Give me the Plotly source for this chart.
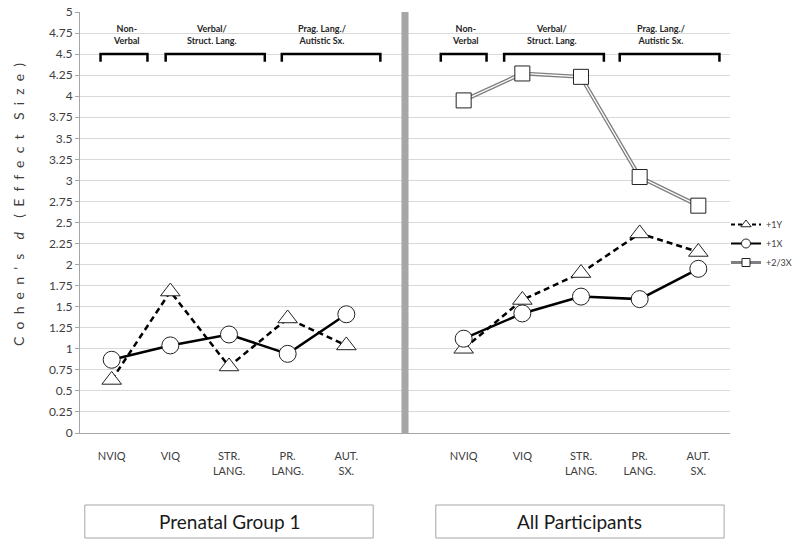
import plotly.graph_objects as go

categories = ["NVIQ", "VIQ", "STR.<br>LANG.", "PR.<br>LANG.", "AUT.<br>SX."]
tick_labels = categories + [""] + categories

# Prenatal Group 1 (left panel)
pg_1y = [0.63, 1.68, 0.79, 1.36, 1.04]
pg_1x = [0.87, 1.04, 1.17, 0.94, 1.41]
# All Participants (right panel)
all_1y = [1.00, 1.58, 1.90, 2.37, 2.15]
all_1x = [1.12, 1.42, 1.62, 1.59, 1.95]
all_23x = [3.95, 4.27, 4.23, 3.04, 2.70]

divider_value = [5]

group_labels = ["Non-<br>Verbal", "Verbal/<br>Struct. Lang.", "Prag. Lang./<br>Autistic Sx."]
bracket_left = [(-0.19, 0.61), (0.92, 2.61), (2.90, 4.58)]
bracket_right = [(5.61, 6.39), (6.69, 8.39), (8.66, 10.36)]
panel_titles = ["Prenatal Group 1", "All Participants"]

xs = list(range(11))
def join(a, b):
    return a + [None] + b

FONT = "Lato, 'Open Sans', sans-serif"
W, H = 800, 547
ML, MR, MT, MB = 80, 0, 12, 114
PLOT_RIGHT = 730
PW = W - ML - MR
PH = H - MT - MB

def px_x(px):
    return (px - ML) / PW

def px_y(py):
    return (H - MB - py) / PH

fig = go.Figure()

# divider bar
fig.add_trace(go.Bar(x=[5], y=divider_value, width=0.12, marker=dict(color="#a6a6a6", line=dict(width=0)),
                     showlegend=False, hoverinfo="skip"))

tri_marker = dict(symbol="triangle-up", size=17, color="white", line=dict(color="#222", width=1))
cir_marker = dict(symbol="circle", size=17, color="white", line=dict(color="#222", width=1))
sq_marker = dict(symbol="square", size=15, color="white", line=dict(color="#222", width=1))

fig.add_trace(go.Scatter(
    x=xs, y=join(pg_1y, all_1y), name="+1Y", mode="lines+markers", showlegend=False,
    line=dict(color="black", width=2.5, dash="6px,4px"), marker=tri_marker, connectgaps=False))
fig.add_trace(go.Scatter(
    x=xs, y=join(pg_1x, all_1x), name="+1X", mode="lines+markers", showlegend=False,
    line=dict(color="black", width=2.5), marker=cir_marker, connectgaps=False))
# double line for +2/3X
fig.add_trace(go.Scatter(
    x=xs, y=join([None]*5, all_23x), name="+2/3X", mode="lines", showlegend=False,
    line=dict(color="#7f7f7f", width=4), connectgaps=False))
fig.add_trace(go.Scatter(
    x=xs, y=join([None]*5, all_23x), mode="lines", showlegend=False,
    line=dict(color="white", width=1.3), hoverinfo="skip", connectgaps=False))
fig.add_trace(go.Scatter(
    x=xs, y=join([None]*5, all_23x), mode="markers", showlegend=False, name="+2/3X",
    marker=sq_marker))

# legend entries (small symbols like the reference)
fig.add_trace(go.Scatter(x=[None], y=[None], name="+1Y", mode="lines+markers",
                         line=dict(color="black", width=2, dash="4px,3px"),
                         marker=dict(symbol="triangle-up", size=9, color="white", line=dict(color="#222", width=1))))
fig.add_trace(go.Scatter(x=[None], y=[None], name="+1X", mode="lines+markers",
                         line=dict(color="black", width=2),
                         marker=dict(symbol="circle", size=9, color="white", line=dict(color="#222", width=1))))
fig.add_trace(go.Scatter(x=[None], y=[None], name="+2/3X", mode="lines+markers",
                         line=dict(color="#7f7f7f", width=3),
                         marker=dict(symbol="square", size=8, color="white", line=dict(color="#222", width=1))))

shapes = []
annotations = []
centers_left = [0.25, 1.71, 3.58]
centers_right = [6.03, 7.5, 9.37]
for (x0, x1) in bracket_left + bracket_right:
    shapes.append(dict(type="path", xref="x", yref="y",
                       path=f"M {x0},4.41 L {x0},4.5 L {x1},4.5 L {x1},4.41",
                       line=dict(color="black", width=2.5)))
for c, lab in zip(centers_left + centers_right, group_labels + group_labels):
    annotations.append(dict(x=c, y=4.73, xref="x", yref="y", text=f"<b>{lab}</b>", showarrow=False,
                            xanchor="center", yanchor="middle",
                            font=dict(family=FONT, size=9, color="#262626"), align="center"))

# panel title boxes (x in category units)
boxes = [(-0.458, 4.458), (5.525, 10.44)]
for (x0, x1), title in zip(boxes, panel_titles):
    y0 = px_y(538)
    y1 = px_y(505)
    shapes.append(dict(type="rect", xref="x", yref="paper", x0=x0, x1=x1, y0=y0, y1=y1,
                       line=dict(color="#a6a6a6", width=1), fillcolor="white"))
    annotations.append(dict(x=(x0 + x1) / 2, y=(y0 + y1) / 2, xref="x", yref="paper", text=title,
                            xanchor="center", yanchor="middle",
                            showarrow=False, font=dict(family=FONT, size=19, color="#1a1a1a")))

def spaced(word):
    return "\u00a0 ".join(word)

ytitle = ("\u00a0 \u00a0 ").join([spaced("Cohen's"), "<i>d</i>", spaced("(Effect"), spaced("Size)")])
annotations.append(dict(x=px_x(18), y=px_y(205), xref="paper", yref="paper",
                        text=ytitle, textangle=-90, xanchor="center", yanchor="middle",
                        showarrow=False, font=dict(family=FONT, size=14, color="#404040")))

fig.update_layout(
    width=W, height=H,
    margin=dict(l=ML, r=MR, t=MT, b=MB),
    paper_bgcolor="white", plot_bgcolor="white",
    font=dict(family=FONT, color="#404040"),
    shapes=shapes, annotations=annotations,
    legend=dict(x=px_x(726), y=px_y(210), xanchor="left", yanchor="top",
                font=dict(family=FONT, size=9, color="#404040"), bgcolor="rgba(0,0,0,0)",
                itemwidth=30, tracegroupgap=0),
    xaxis=dict(domain=[0, px_x(PLOT_RIGHT)], range=[-0.54, 10.54], tickmode="array", tickvals=xs,
               ticktext=tick_labels, automargin=False,
               showgrid=False, zeroline=False, showline=True, linecolor="#a6a6a6", linewidth=1,
               ticks="", tickfont=dict(family=FONT, size=11, color="#404040"), ticklabelstandoff=13),
    yaxis=dict(range=[0, 5], tickmode="array", tickvals=[i * 0.25 for i in range(21)],
               ticktext=[f"{i*0.25:g}" for i in range(21)], automargin=False, ticklabeloverflow="allow",
               showgrid=True, gridcolor="#d9d9d9", gridwidth=1, zeroline=False,
               showline=True, linecolor="#a6a6a6", linewidth=1, ticks="outside", ticklen=4,
               tickcolor="#a6a6a6", tickfont=dict(family=FONT, size=12, color="#404040")),
    showlegend=True,
)

fig.write_html("out.html", config={"displayModeBar": False},
               post_script="document.body.style.margin='0';")
